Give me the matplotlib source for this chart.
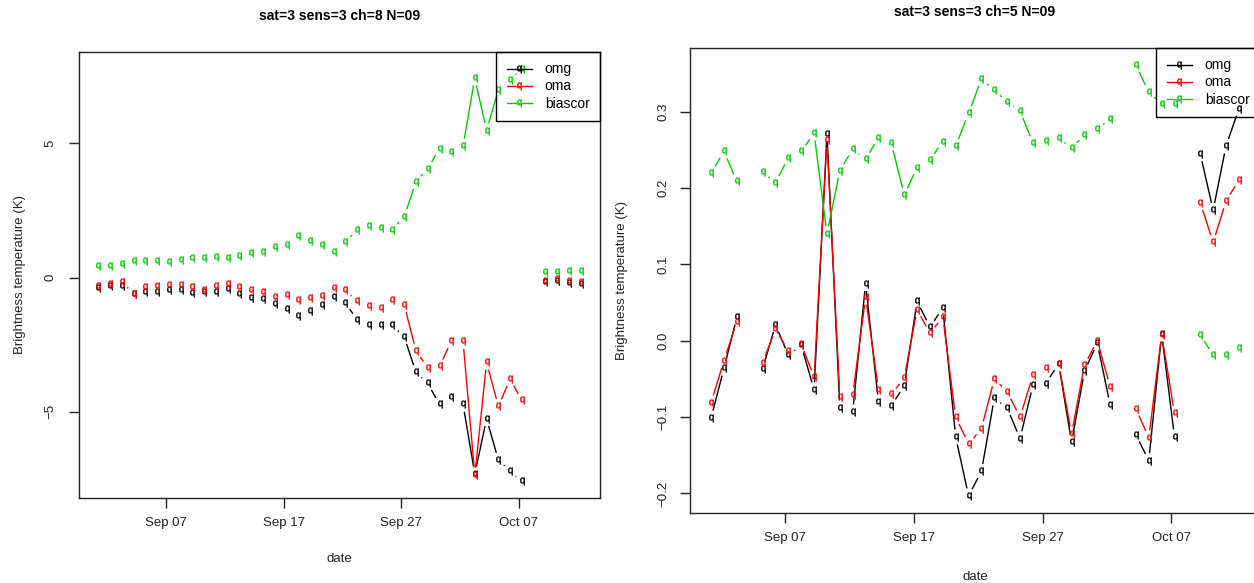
import numpy as np
import pandas as pd
import matplotlib
matplotlib.use("Agg")
import matplotlib.pyplot as plt
import matplotlib.dates as mdates
from matplotlib.collections import LineCollection
from matplotlib.lines import Line2D

plt.rcParams['font.family'] = ['Liberation Sans', 'DejaVu Sans']
plt.rcParams['mathtext.fontset'] = 'custom'
plt.rcParams['mathtext.rm'] = 'Liberation Sans'

nan = np.nan
dates = pd.date_range("2020-09-01 06:00", periods=42, freq="D")

# left panel: ch=8
omg_l = [-0.38, -0.30, -0.30, -0.60, -0.54, -0.54, -0.47, -0.48, -0.57, -0.53, -0.53, -0.42,
         -0.62, -0.75, -0.79, -0.97, -1.16, -1.44, -1.23, -1.02, -0.73, -0.94, -1.58, -1.78,
         -1.78, -1.78, -2.21, -3.53, -3.94, -4.73, -4.46, -4.73, -7.32, -5.26, -6.80, -7.21,
         -7.60, nan, -0.16, -0.11, -0.20, -0.23]
oma_l = [-0.30, -0.23, -0.17, -0.60, -0.35, -0.33, -0.27, -0.28, -0.35, -0.47, -0.32, -0.23,
         -0.35, -0.47, -0.52, -0.72, -0.65, -0.85, -0.77, -0.67, -0.38, -0.46, -0.88, -1.06,
         -1.12, -0.84, -1.02, -2.73, -3.36, -3.31, -2.38, -2.38, -7.36, -3.16, -4.80, -3.78,
         -4.58, nan, -0.11, -0.05, -0.14, -0.16]
biascor_l = [0.44, 0.42, 0.52, 0.63, 0.62, 0.62, 0.58, 0.65, 0.72, 0.72, 0.77, 0.74,
             0.81, 0.90, 0.96, 1.14, 1.23, 1.53, 1.36, 1.22, 0.97, 1.31, 1.79, 1.93,
             1.86, 1.78, 2.27, 3.57, 4.06, 4.80, 4.68, 4.90, 7.43, 5.48, 7.00, 7.36,
             7.79, nan, 0.20, 0.20, 0.25, 0.25]

# right panel: ch=5
omg_r = [-0.101, -0.036, 0.031, nan, -0.037, 0.021, -0.019, -0.006, -0.064, 0.271, -0.088, -0.093,
         0.075, -0.080, -0.085, -0.059, 0.052, 0.018, 0.043, -0.126, -0.203, -0.171, -0.075, -0.088,
         -0.128, -0.058, -0.056, -0.030, -0.133, -0.040, -0.003, -0.084, nan, -0.123, -0.157, 0.009,
         -0.126, nan, 0.245, 0.171, 0.255, 0.304]
oma_r = [-0.081, -0.026, 0.025, nan, -0.029, 0.015, -0.013, -0.004, -0.048, 0.263, -0.073, -0.071,
         0.057, -0.064, -0.070, -0.049, 0.041, 0.010, 0.031, -0.100, -0.135, -0.115, -0.050, -0.067,
         -0.100, -0.045, -0.036, -0.030, -0.122, -0.032, 0.000, -0.060, nan, -0.089, -0.127, 0.008,
         -0.095, nan, 0.181, 0.129, 0.183, 0.211]
biascor_r = [0.220, 0.248, 0.209, nan, 0.221, 0.207, 0.240, 0.248, 0.272, 0.140, 0.223, 0.251,
             0.238, 0.266, 0.259, 0.191, 0.227, 0.237, 0.261, 0.255, 0.298, 0.343, 0.328, 0.313,
             0.301, 0.259, 0.262, 0.266, 0.252, 0.270, 0.277, 0.291, nan, 0.361, 0.326, 0.310,
             0.310, nan, 0.008, -0.019, -0.018, -0.010]

series_names = ["omg", "oma", "biascor"]
colors = ["#000000", "#FF0000", "#00CD00"]
titles = ["sat=3 sens=3 ch=8 N=09", "sat=3 sens=3 ch=5 N=09"]
tick_dates = pd.to_datetime(["2020-09-07", "2020-09-17", "2020-09-27", "2020-10-07"])
yticks_l = [-5, 0, 5]
ylabels_l = ["\u22125", "0", "5"]
yticks_r = [-0.2, -0.1, 0.0, 0.1, 0.2, 0.3]
ylabels_r = ["\u22120.2", "\u22120.1", "0.0", "0.1", "0.2", "0.3"]

W, H = 1254, 583
fig = plt.figure(figsize=(W / 100, H / 100), dpi=100)
fig.patch.set_facecolor("white")

def px_axes(l, r, t, b):
    return fig.add_axes([l / W, (H - b) / H, (r - l) / W, (b - t) / H])

axL = px_axes(79, 600, 52, 498)
axR = px_axes(690, 1260, 48, 513)

MARK = r'$\mathrm{q}$'
MS = 5.5
MEW = 0.3
GAP = 7.5

def draw_b(ax, x, y, color):
    xn = mdates.date2num(x)
    y = np.asarray(y, float)
    xy = ax.transData.transform(np.column_stack([xn, y]))
    inv = ax.transData.inverted()
    segs = []
    for i in range(len(y) - 1):
        p, q = xy[i], xy[i + 1]
        if not (np.all(np.isfinite(p)) and np.all(np.isfinite(q))):
            continue
        d = q - p
        L = np.hypot(*d)
        if L <= 2 * GAP:
            continue
        u = d / L
        segs.append(inv.transform([p + u * GAP, q - u * GAP]))
    ax.add_collection(LineCollection(segs, colors=color, linewidths=1.0))
    ax.plot(x, y, linestyle="none", marker=MARK, ms=MS, mew=MEW, color=color)

def setup(ax, data, title, yticks, ylabels, label_ypx, ylab_x, axh, axw, ypad):
    xn = mdates.date2num(dates)
    span = xn[-1] - xn[0]
    ax.set_xlim(xn[0] - 0.04 * span, xn[-1] + 0.04 * span)
    allv = np.concatenate([np.asarray(d, float) for d in data])
    lo, hi = np.nanmin(allv), np.nanmax(allv)
    ax.set_ylim(lo - 0.04 * (hi - lo), hi + 0.04 * (hi - lo))
    ax.set_xticks(mdates.date2num(tick_dates))
    ax.xaxis.set_major_formatter(mdates.DateFormatter("%b %d"))
    ax.set_yticks(yticks)
    ax.set_yticklabels(ylabels, rotation=90, va="center")
    ax.tick_params(direction="out", length=7, width=1, labelsize=9.5, colors="#222222", pad=7)
    ax.tick_params(axis="y", pad=ypad)
    for s in ax.spines.values():
        s.set_linewidth(1.0)
        s.set_color("#222222")
    ax.set_title(title, fontsize=10, fontweight="bold", pad=23)
    ax.set_xlabel("date", fontsize=9.5, color="#222222")
    ax.xaxis.set_label_coords(0.5, -label_ypx / axh)
    ax.set_ylabel("Brightness temperature (K)", fontsize=9.5, color="#222222")
    ax.yaxis.set_label_coords(ylab_x / axw, 0.5)

setup(axL, [omg_l, oma_l, biascor_l], titles[0], yticks_l, ylabels_l, 55, -53, 446, 521, 9.5)
setup(axR, [omg_r, oma_r, biascor_r], titles[1], yticks_r, ylabels_r, 58, -62, 465, 570, 7.5)

for ax, data in [(axL, [omg_l, oma_l, biascor_l]), (axR, [omg_r, oma_r, biascor_r])]:
    for y, c in zip(data, colors):
        draw_b(ax, dates, y, c)
    handles = [Line2D([], [], color=c, marker=MARK, ms=MS, mew=MEW, lw=1) for c in colors]
    leg = ax.legend(handles, series_names, loc="upper right", bbox_to_anchor=(1, 1),
                    borderaxespad=0, fancybox=False, edgecolor="black", facecolor="none",
                    fontsize=10, handlelength=1.8, labelspacing=0.22, handletextpad=0.95,
                    borderpad=0.75)
    leg.get_frame().set_linewidth(1.0)
    leg.get_frame().set_alpha(None)

fig.savefig("out.png", dpi=100)
